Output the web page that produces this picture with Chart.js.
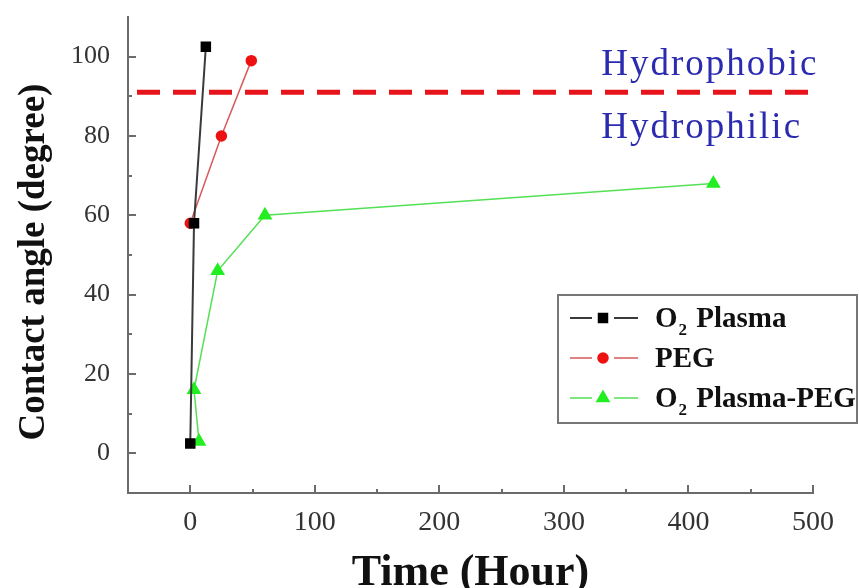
<!DOCTYPE html>
<html>
<head>
<meta charset="utf-8">
<script src="https://cdn.jsdelivr.net/npm/chart.js@4.4.1/dist/chart.umd.min.js"></script>
<style>
  html, body { margin: 0; padding: 0; background: #fff; }
</style>
</head>
<body>
<canvas id="angleChart" width="859" height="588"></canvas>
<script>
// contact angle vs. time for the three surface treatments
const plasmaTime = [0, 3, 12.5];
const plasmaAngle = [2.5, 58, 102.5];
const pegTime = [0, 25, 49];
const pegAngle = [58, 80, 99];
const plasmaPegTime = [7, 3, 22, 60, 420];
const plasmaPegAngle = [3, 16, 46, 60, 68];

const thresholdTime = [-50, 500];
const thresholdAngle = [91, 91];
const zoneLabels = ["Hydrophobic", "Hydrophilic"];
const yTitle = "Contact angle (degree)";

const xTicks = [0, 100, 200, 300, 400, 500];
const xMinorTicks = [50, 150, 250, 350, 450];
const yTicks = [0, 20, 40, 60, 80, 100];
const yMinorTicks = [10, 30, 50, 70, 90];

const SERIF = "'Liberation Serif', 'Times New Roman', serif";
const AXIS_COLOR = "#6b6b6b";

const toPoints = (xs, ys) => xs.map((x, i) => ({ x, y: ys[i] }));

// tick marks point inward, major and minor
const innerTicks = {
  id: "innerTicks",
  beforeDatasetsDraw(chart) {
    const { ctx, chartArea, scales } = chart;
    ctx.save();
    ctx.strokeStyle = AXIS_COLOR;
    ctx.lineWidth = 2;
    ctx.beginPath();
    const xt = (list, len) => list.forEach((v) => {
      const px = Math.round(scales.x.getPixelForValue(v));
      ctx.moveTo(px, chartArea.bottom);
      ctx.lineTo(px, chartArea.bottom - len);
    });
    const yt = (list, len) => list.forEach((v) => {
      const py = Math.round(scales.y.getPixelForValue(v));
      ctx.moveTo(chartArea.left, py);
      ctx.lineTo(chartArea.left + len, py);
    });
    xt(xTicks, 8);
    xt(xMinorTicks, 4);
    yt(yTicks, 8);
    yt(yMinorTicks, 4);
    ctx.stroke();

    // rotated y title, sits a little below the middle of the axis
    ctx.font = `bold 37px ${SERIF}`;
    ctx.fillStyle = "#111";
    ctx.textAlign = "center";
    ctx.textBaseline = "middle";
    ctx.translate(34, 262);
    ctx.rotate(-Math.PI / 2);
    ctx.fillText(yTitle, 0, 0);
    ctx.restore();
  }
};

// hydrophobic / hydrophilic labels either side of the dashed line
const zoneText = {
  id: "zoneText",
  afterDatasetsDraw(chart) {
    const { ctx, scales } = chart;
    ctx.save();
    ctx.font = `37px ${SERIF}`;
    ctx.letterSpacing = "2px";
    ctx.fillStyle = "#2b2bb0";
    ctx.textBaseline = "alphabetic";
    const x = scales.x.getPixelForValue(330);
    ctx.fillText(zoneLabels[0], x, scales.y.getPixelForValue(95.4));
    ctx.fillText(zoneLabels[1], x, scales.y.getPixelForValue(79.4));
    ctx.restore();
  }
};

// framed legend, label "O₂" drawn with a real subscript
const boxLegend = {
  id: "boxLegend",
  afterDraw(chart) {
    const { ctx } = chart;
    const items = chart.data.datasets.filter((d) => d.inLegend !== false);
    const left = 558, top = 295, width = 299, height = 128;
    ctx.save();
    ctx.fillStyle = "#fff";
    ctx.fillRect(left, top, width, height);
    ctx.strokeStyle = "#777";
    ctx.lineWidth = 2;
    ctx.strokeRect(left, top, width, height);

    items.forEach((ds, i) => {
      const rowY = top + 23 + i * 40;
      ctx.strokeStyle = ds.borderColor;
      ctx.lineWidth = ds.borderWidth;
      ctx.beginPath();
      ctx.moveTo(570, rowY);
      ctx.lineTo(592, rowY);
      ctx.moveTo(614, rowY);
      ctx.lineTo(638, rowY);
      ctx.stroke();
      ctx.fillStyle = ds.pointBackgroundColor;
      ctx.strokeStyle = ds.pointBorderColor;
      Chart.helpers.drawPoint(ctx, {
        pointStyle: ds.pointStyle,
        radius: ds.pointRadius,
        rotation: 0,
        borderWidth: 1
      }, 603, rowY);

      ctx.fillStyle = "#111";
      ctx.textBaseline = "alphabetic";
      const base = rowY + 9;
      let x = 655;
      const parts = ds.label.split("₂");
      ctx.font = `bold 29px ${SERIF}`;
      ctx.fillText(parts[0], x, base);
      x += ctx.measureText(parts[0]).width;
      if (parts.length > 1) {
        ctx.font = `bold 17px ${SERIF}`;
        ctx.fillText("2", x + 1, base + 8);
        x += ctx.measureText("2").width + 3;
        ctx.font = `bold 29px ${SERIF}`;
        ctx.fillText(parts[1], x, base);
      }
    });
    ctx.restore();
  }
};

new Chart(document.getElementById("angleChart"), {
  type: "scatter",
  data: {
    datasets: [
      {
        label: "O₂ Plasma",
        data: toPoints(plasmaTime, plasmaAngle),
        showLine: true,
        borderColor: "#3a3a3a",
        borderWidth: 2,
        pointStyle: "rect",
        pointRadius: 6,
        pointBackgroundColor: "#000",
        pointBorderColor: "#000"
      },
      {
        label: "PEG",
        data: toPoints(pegTime, pegAngle),
        showLine: true,
        borderColor: "#d85a5a",
        borderWidth: 1.5,
        pointStyle: "circle",
        pointRadius: 5,
        pointBackgroundColor: "#ee1111",
        pointBorderColor: "#ee1111"
      },
      {
        label: "O₂ Plasma-PEG",
        data: toPoints(plasmaPegTime, plasmaPegAngle),
        showLine: true,
        borderColor: "#55e055",
        borderWidth: 1.5,
        pointStyle: "triangle",
        pointRadius: 7,
        pointBackgroundColor: "#22ee22",
        pointBorderColor: "#22ee22"
      },
      {
        label: "threshold",
        inLegend: false,
        data: toPoints(thresholdTime, thresholdAngle),
        showLine: true,
        borderColor: "#e8141c",
        borderWidth: 5,
        borderDash: [23, 13],
        borderDashOffset: -9,
        pointRadius: 0
      }
    ]
  },
  options: {
    responsive: false,
    animation: false,
    layout: { padding: { top: 17, right: 46, left: 0, bottom: 0 } },
    plugins: {
      legend: { display: false },
      tooltip: { enabled: false }
    },
    scales: {
      x: {
        type: "linear",
        min: -50,
        max: 500,
        afterBuildTicks: (s) => { s.ticks = xTicks.map((v) => ({ value: v })); },
        afterFit: (s) => { s.height = 95; },
        grid: { display: false, drawTicks: false },
        border: { color: AXIS_COLOR, width: 2 },
        ticks: {
          font: { family: SERIF, size: 28, lineHeight: 1 },
          color: "#333",
          padding: 16,
          maxRotation: 0
        },
        title: {
          display: true,
          text: "Time (Hour)",
          font: { family: SERIF, size: 44, weight: "bold", lineHeight: 1 },
          color: "#111",
          padding: { top: 0, bottom: -8 }
        }
      },
      y: {
        type: "linear",
        min: -10,
        max: 110,
        afterBuildTicks: (s) => { s.ticks = yTicks.map((v) => ({ value: v })); },
        afterFit: (s) => {
          s.width = 128;
          s.paddingTop = 0;
          s.paddingBottom = 0;
        },
        grid: { display: false, drawTicks: false },
        border: { color: AXIS_COLOR, width: 2 },
        ticks: {
          font: { family: SERIF, size: 26, lineHeight: 1 },
          color: "#333",
          padding: 18
        }
      }
    }
  },
  plugins: [innerTicks, zoneText, boxLegend]
});
</script>
</body>
</html>
